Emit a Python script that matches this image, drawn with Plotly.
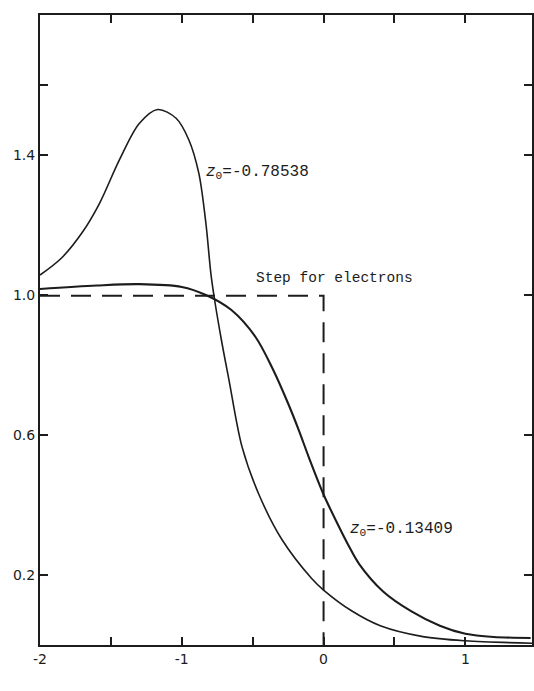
import plotly.graph_objects as go

# Reduced coordinate z along the axis
z_a = [-2.0, -1.85, -1.70, -1.58, -1.44, -1.30, -1.17, -1.04, -0.95, -0.88, -0.83,
       -0.795, -0.77, -0.72, -0.667, -0.575, -0.456, -0.295, -0.084, 0.0, 0.2, 0.4,
       0.7, 1.0, 1.47]
# Profile for z0 = -0.78538
n_a = [1.057, 1.105, 1.18, 1.262, 1.386, 1.490, 1.530, 1.505, 1.443, 1.348, 1.205,
       1.062, 0.99, 0.87, 0.757, 0.566, 0.430, 0.302, 0.190, 0.157, 0.097, 0.055,
       0.024, 0.012, 0.005]

z_b = [-2.0, -1.6, -1.30, -1.0, -0.83, -0.65, -0.48, -0.36, -0.25, -0.175, -0.10,
       0.0, 0.1, 0.175, 0.25, 0.42, 0.62, 0.82, 1.0, 1.2, 1.46]
# Profile for z0 = -0.13409
n_b = [1.017, 1.027, 1.031, 1.023, 1.0, 0.957, 0.88, 0.79, 0.69, 0.614, 0.532,
       0.43, 0.345, 0.285, 0.232, 0.153, 0.096, 0.055, 0.032, 0.023, 0.02]

# Step profile for electrons
z_step = [-2.0, 0.0, 0.0]
n_step = [0.998, 0.998, 0.0]

x_tickvals = [-2, -1, 0, 1]
x_ticktext = ["-2", "-1", "0", "1"]
x_minor = [-1.5, -0.5, 0.5]
y_tickvals = [0.2, 0.6, 1.0, 1.4]
y_ticktext = ["0.2", "0.6", "1.0", "1.4"]
y_minor = [1.6]

ink = "#1c1c1c"
tick_font = dict(family="DejaVu Sans", size=14, color=ink)
note_font = dict(family="Liberation Mono", size=14.5, color=ink)
z_font = dict(family="Liberation Mono", size=16, color=ink)

fig = go.Figure()
fig.add_trace(go.Scatter(x=z_step, y=n_step, mode="lines",
                         line=dict(color=ink, width=2, dash="20px,11px"),
                         hoverinfo="skip"))
fig.add_trace(go.Scatter(x=z_a, y=n_a, mode="lines",
                         line=dict(color=ink, width=1.6, shape="spline", smoothing=0.9)))
fig.add_trace(go.Scatter(x=z_b, y=n_b, mode="lines",
                         line=dict(color=ink, width=2.1, shape="spline", smoothing=0.9)))

fig.add_annotation(x=-0.842, y=1.351, xanchor="left", yanchor="middle", showarrow=False,
                   text="<i>z</i><sub>0</sub>=-0.78538", font=z_font)
fig.add_annotation(x=-0.49, y=1.05, xanchor="left", yanchor="middle", showarrow=False,
                   text="Step for electrons", font=note_font)
fig.add_annotation(x=0.17, y=0.329, xanchor="left", yanchor="middle", showarrow=False,
                   text="<i>z</i><sub>0</sub>=-0.13409", font=z_font)
fig.add_annotation(x=-0.48, y=-0.1, xanchor="center", yanchor="middle", showarrow=False,
                   text="<i>z</i>", font=dict(family="DejaVu Sans", size=16, color=ink))

axis_common = dict(showline=True, linecolor=ink, linewidth=2, mirror="ticks",
                   ticks="inside", ticklen=8, tickwidth=2, tickcolor=ink,
                   showgrid=False, zeroline=False, tickfont=tick_font)

fig.update_xaxes(range=[-2, 1.47], tickvals=x_tickvals, ticktext=x_ticktext,
                 minor=dict(tickmode="array", tickvals=x_minor, ticks="inside",
                            ticklen=8, tickwidth=2, tickcolor=ink, showgrid=False),
                 **axis_common)
fig.update_yaxes(range=[0, 1.8], tickvals=y_tickvals, ticktext=y_ticktext,
                 minor=dict(tickmode="array", tickvals=y_minor, ticks="inside",
                            ticklen=8, tickwidth=2, tickcolor=ink, showgrid=False),
                 **axis_common)

fig.update_layout(width=534, height=691, margin=dict(l=40, r=0, t=15, b=46),
                  paper_bgcolor="white", plot_bgcolor="white", showlegend=False)

fig.write_html("out.html")
